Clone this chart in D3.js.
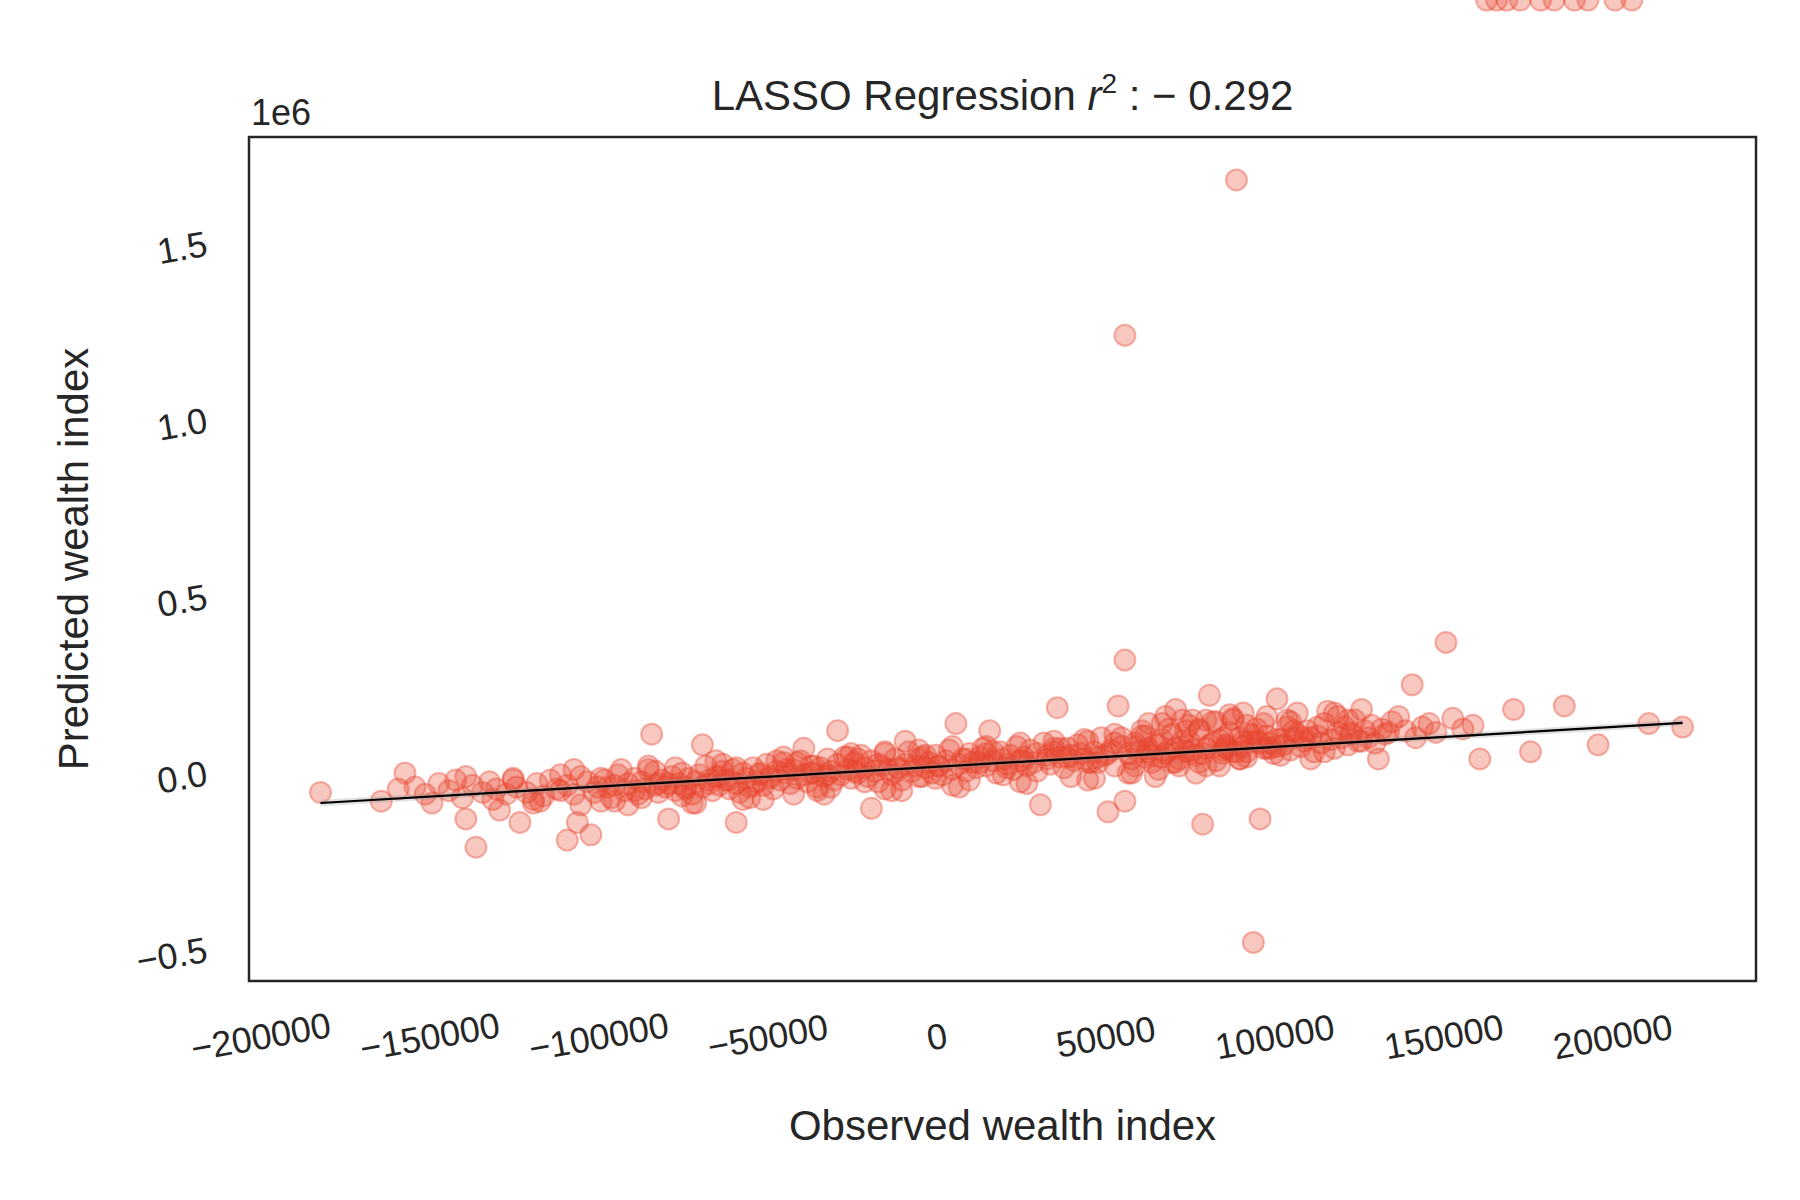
<!DOCTYPE html>
<html><head><meta charset="utf-8">
<script src="https://cdn.jsdelivr.net/npm/d3@7"></script>
<style>body{margin:0;background:#fff}text{font-family:"Liberation Sans",Arial,sans-serif;fill:#262626}</style>
</head><body><svg id="c" width="1800" height="1200"></svg>
<script>
// observed (thousands)
const observed = [-183,-165,-160,-158,-150,-140,-137,-130,-124,-120,-110,-107,-103,-100,-80,-85,-70,-60,-40,-30,-20,-10,5,15,35,50,53,55,55,70,80,88,93,95,100,78,55,30,140,150,170,185,195,210,220,175,160,130,125,115,110,90,75,65,
-155,-152,-148,-145,-143,-141,-138,-135,-133,-131,-128,-126,-125,-122,-119,-117,-115,-113,-112,-110,-108,-106,-104,-102,-101,-99,-97,-96,-95,-93,-92,-90,-89,-88,-87,-86,-84,-83,-82,-81,-79,-78,-77,-76,-75,-74,-73,-72,-71,-70,-69,-68,-67,-66,-65,-64,-63,-62,-61,-60,-59,-58,-57,-56,-55,-54,-53,-52,-51,-50,-49,-48,-47,-46,-45,-44,-43,-42,-41,-40,-39,-38,-37,-36,-35,-34,-33,-32,-31,-30,-29,-28,-27,-26,-25,-24,-23,-22,-21,-20,-19,-18,-17,-16,-15,-14,-13,-12,-11,-10,-9,-8,-7,-6,-5,-4,-3,-2,-1,0,1,2,3,4,6,7,8,9,10,11,12,13,14,16,17,18,19,20,21,22,23,24,25,26,27,28,29,31,32,33,34,36,37,38,39,40,41,42,43,44,45,46,47,48,49,51,52,54,56,57,58,59,60,61,62,63,64,66,67,68,69,71,72,73,74,76,77,79,81,82,83,84,85,86,87,89,90,91,92,94,96,97,98,99,101,102,103,104,105,106,107,108,109,111,112,113,114,116,117,118,119,120,121,122,123,124,126,127,128,129,131,132,134,136,138,141,143,145,147,152,155,158,162,165,168,172,178,182,188,192,200,205];
// predicted (thousands)
const predicted = [-55,-80,-45,0,-85,-130,-210,-105,-140,-85,-190,-140,-175,-80,-130,110,80,-140,70,120,-100,90,140,120,185,-110,190,320,1240,180,220,1680,-480,-130,210,-145,-80,-90,250,370,180,190,80,140,130,60,40,40,180,175,100,170,150,80,
-40,-60,-30,-50,-20,-70,-35,-55,-25,-45,-60,-15,-40,-55,-30,-65,-20,-45,-50,-35,-60,-10,-25,-55,-40,-20,-70,-35,-5,-50,-30,-15,-60,-25,-45,10,-35,-55,-20,-40,-10,-50,-30,0,-45,-15,-60,-25,-5,-40,20,-30,-50,-10,-35,5,-20,-45,10,-30,-55,0,-15,-40,15,-25,-5,-35,25,-10,-45,5,-20,30,0,-30,10,-15,35,-5,-25,20,0,-40,15,-10,40,5,-20,25,-5,45,10,-15,30,0,50,15,-10,35,5,-25,20,55,10,-5,40,15,-20,25,60,5,20,-10,45,15,30,0,50,20,-5,35,65,10,25,40,5,55,30,15,45,70,20,35,0,60,40,25,50,10,75,35,45,20,65,30,55,85,40,25,60,45,15,70,50,35,80,55,40,90,30,60,45,100,50,65,20,75,55,40,85,60,105,45,70,30,80,95,55,65,110,40,75,60,90,50,120,70,85,35,95,65,80,115,60,100,75,45,90,125,70,105,85,55,95,80,130,65,100,110,75,90,120,60,105,85,140,95,70,115,100,130,80,110,150,90,120,100,135,85,125,110,145,160,120,100,130,140,115,155,125,135];
// supplementary dense cluster
const observed2 = [-90,-75,-62,-50,-38,-25,-12,0,12,25,38,50,62,70,75,80,85,90,95,100,-80,-65,-55,-45,-33,-18,-5,8,20,32,44,58,66,72,78,84,88,92,98,105,
-140,-132,-126,-118,-112,-106,-98,-94,-88,-83,-78,-73,-68,-64,-58,-53,-48,-43,-37,-32,-27,-22,-16,-11,-6,-1,4,9,14,19,24,29,34,39,43,47,52,56,60,63,66,69,72,74,77,79,82,85,87,89,91,94,97,101,104,108,112,117,122,127,
-120,-108,-96,-86,-76,-66,-56,-46,-36,-26,-16,-6,4,14,24,34,44,54,58,62,64,67,70,73,76,79,83,86,89,93,97,103,110,118,125,133,
-100,-92,-84,-72,-60,-52,-42,-34,-24,-14,-4,6,16,26,36,46,52,57,61,65,68,71,74,77,81,84,87,91,96,100,106,114,121];
const predicted2 = [-50,-40,-20,-15,0,5,10,20,30,35,45,55,60,70,65,80,75,90,85,95,-30,-10,-35,10,-5,25,-10,40,15,50,30,75,45,90,55,100,60,110,70,120,
-10,-75,-20,-80,-5,-90,-40,10,-70,-30,15,-85,-20,25,-75,0,35,-60,20,-40,45,-25,60,-50,40,-15,75,-20,55,-5,85,5,70,-10,95,30,110,0,120,50,140,30,150,60,125,20,145,70,155,40,135,90,160,50,145,100,130,170,115];
const predicted3 = [];
const observed3 = [];
// extra (wide scatter) points
const wideX = [-120,-108,-96,-86,-76,-66,-56,-46,-36,-26,-16,-6,4,14,24,34,44,54,58,62,64,67,70,73,76,79,83,86,89,93,97,103,110,118,125,133,
-100,-92,-84,-72,-60,-52,-42,-34,-24,-14,-4,6,16,26,36,46,52,57,61,65,68,71,74,77,81,84,87,91,96,100,106,114,121];
const wideY = [-75,10,-80,20,-65,35,-70,45,-50,55,-45,65,-35,75,-25,90,-20,100,20,140,-10,160,30,120,0,150,20,165,40,110,70,150,40,160,90,115,
-15,-90,5,-85,15,-75,30,-60,40,-50,50,-40,60,-30,70,-15,85,0,105,10,125,20,135,30,145,55,150,60,140,75,170,60,150];

const pts = [];
for (let i=0;i<observed.length;i++) pts.push([observed[i]*1000, predicted[i]*1000]);
for (let i=0;i<predicted2.length;i++) pts.push([observed2[i]*1000, predicted2[i]*1000]);
for (let i=0;i<wideX.length;i++) pts.push([wideX[i]*1000, wideY[i]*1000]);

const fitX = [-183, 220];
const fitY = [-85, 142];
const xTicks = [-200000,-150000,-100000,-50000,0,50000,100000,150000,200000];
const yTicks = [-0.5,0,0.5,1.0,1.5];

const L=249,R=1756,T=137,B=981;
const xs = d3.scaleLinear().domain([0,50000]).range([939,1108]);
const ys = d3.scaleLinear().domain([0,0.5e6]).range([773,596.5]);
const svg = d3.select("#c");
const g = svg.append("g");
const col = "#e8452f";
g.selectAll("circle").data(pts).enter().append("circle")
 .attr("cx",d=>xs(d[0])).attr("cy",d=>ys(d[1])).attr("r",10.5)
 .attr("fill",col).attr("fill-opacity",0.3).attr("stroke",col).attr("stroke-opacity",0.4).attr("stroke-width",2);
g.append("path").attr("d",d3.area().x(d=>xs(d[0]*1000)).y0(d=>ys(d[1]*1000-9000)).y1(d=>ys(d[1]*1000+9000))([[fitX[0],fitY[0]],[fitX[1],fitY[1]]]))
 .attr("fill","#999").attr("opacity",0.3);
g.append("line").attr("x1",xs(fitX[0]*1000)).attr("y1",ys(fitY[0]*1000)).attr("x2",xs(fitX[1]*1000)).attr("y2",ys(fitY[1]*1000))
 .attr("stroke","#000").attr("stroke-width",2.2);
svg.append("rect").attr("x",L).attr("y",T).attr("width",R-L).attr("height",B-T).attr("fill","none").attr("stroke","#262626").attr("stroke-width",2.5);
xTicks.forEach(t=>{
  svg.append("text").attr("transform",`translate(${xs(t)},${B+68}) rotate(-10)`).attr("text-anchor","middle")
   .attr("font-size",36).text(t<0?"\u2212"+Math.abs(t):t);
});
yTicks.forEach(t=>{
  svg.append("text").attr("transform",`translate(${L-40},${ys(t*1e6)+12}) rotate(-10)`).attr("text-anchor","end")
   .attr("font-size",36).text((t<0?"\u2212":"")+Math.abs(t).toFixed(1));
});
svg.append("text").attr("x",L+2).attr("y",T-12).attr("font-size",36).text("1e6");
svg.append("text").attr("x",(L+R)/2).attr("y",1140).attr("text-anchor","middle").attr("font-size",42).text("Observed wealth index");
svg.append("text").attr("transform",`translate(88,${(T+B)/2}) rotate(-90)`).attr("text-anchor","middle").attr("font-size",42).text("Predicted wealth index");
const tt = svg.append("text").attr("x",(L+R)/2).attr("y",110).attr("text-anchor","middle").attr("font-size",42);
tt.append("tspan").text("LASSO Regression ");
tt.append("tspan").attr("font-style","italic").text("r");
tt.append("tspan").attr("font-size",28).attr("dy",-17).text("2");
tt.append("tspan").attr("dy",17).text(" : \u2212 0.292");
</script></body></html>
